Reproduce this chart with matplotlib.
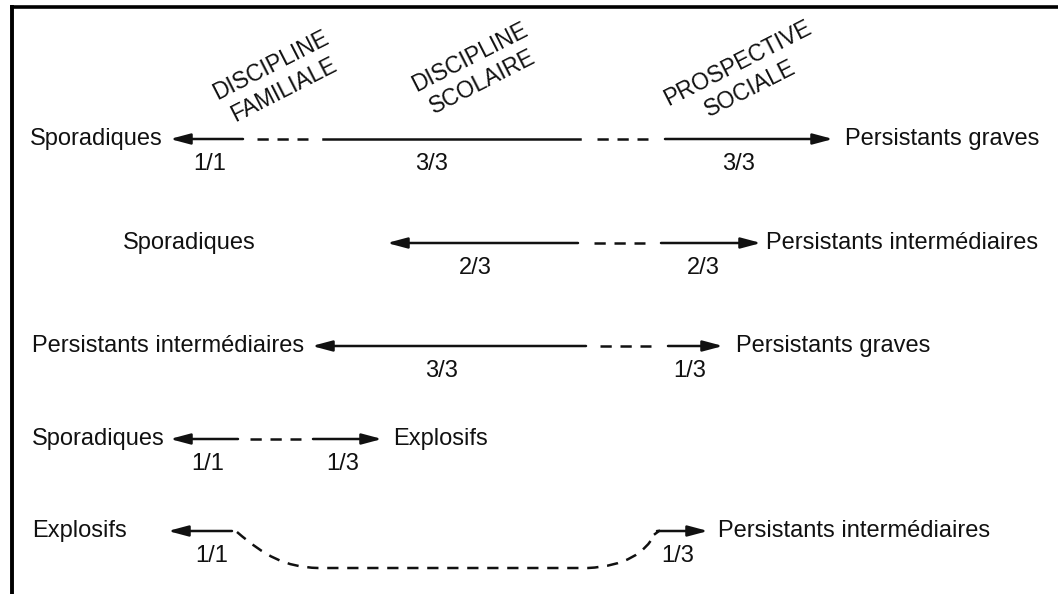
import matplotlib.pyplot as plt
from matplotlib.path import Path
from matplotlib.patches import PathPatch

plt.rcParams['font.family'] = ['Liberation Sans', 'DejaVu Sans']

# ---- layout of the diagram (pixel units, y down) ----
row_y = [139, 243, 346, 439, 531]
left_labels = ['Sporadiques', 'Sporadiques', 'Persistants intermédiaires',
               'Sporadiques', 'Explosifs']
left_label_x = [30, 123, 32, 32, 32]
right_labels = ['Persistants graves', 'Persistants intermédiaires',
                'Persistants graves', 'Explosifs', 'Persistants intermédiaires']
right_label_x = [845, 766, 736, 393, 718]

# left arrows: (tip, other end)
left_arrows = [(170, 243), (387, 578), (312, 586), (170, 238), (168, 232)]
# right arrows: (start, tip)
right_arrows = [(665, 833), (661, 761), (668, 723), (313, 382), (657, 708)]
# extra solid pieces and dashed pieces per row
solid_extra = [[(323, 580)], [], [], [], []]
dashed = [[(257, 308), (597, 648)], [(594, 645)], [(600, 651)], [(250, 301)], []]

# fractions under the arrows
fractions = [
    [(210, '1/1'), (432, '3/3'), (739, '3/3')],
    [(475, '2/3'), (703, '2/3')],
    [(442, '3/3'), (690, '1/3')],
    [(208, '1/1'), (343, '1/3')],
    [(212, '1/1'), (678, '1/3')],
]
frac_dy = 25

headers = ['DISCIPLINE\nFAMILIALE', 'DISCIPLINE\nSCOLAIRE', 'PROSPECTIVE\nSOCIALE']
header_xy = [(277, 78), (476, 70), (744, 76)]

# dashed curve of the last row (control points)
curve_pts = [(237, 532), (265, 556), (285, 567), (318, 568),
             (588, 568), (625, 566), (645, 553), (655, 534)]

ink = '#111111'
lw = 1.8

fig = plt.figure(figsize=(10.58, 5.94), dpi=100)
ax = fig.add_axes([0, 0, 1, 1])
ax.set_xlim(0, 1058)
ax.set_ylim(594, 0)
ax.axis('off')

# frame (top and left only)
ax.plot([10, 1058], [6.5, 6.5], color='k', lw=2.6, solid_capstyle='butt')
ax.plot([12, 12], [5, 594], color='k', lw=2.8, solid_capstyle='butt')

arrow_kw = dict(arrowstyle='-|>,head_length=1.2,head_width=0.32', lw=lw,
                color=ink, shrinkA=0, shrinkB=0, mutation_scale=10)
dash = (0, (4.5, 3.5))

for i, y in enumerate(row_y):
    ax.text(left_label_x[i], y, left_labels[i], fontsize=17, color=ink,
            ha='left', va='center')
    ax.text(right_label_x[i], y, right_labels[i], fontsize=17, color=ink,
            ha='left', va='center')
    tip, end = left_arrows[i]
    ax.annotate('', xy=(tip, y), xytext=(end, y), arrowprops=arrow_kw)
    start, tip = right_arrows[i]
    ax.annotate('', xy=(tip, y), xytext=(start, y), arrowprops=arrow_kw)
    for a, b in solid_extra[i]:
        ax.plot([a, b], [y, y], color=ink, lw=lw)
    for a, b in dashed[i]:
        ax.plot([a, b], [y, y], color=ink, lw=lw, linestyle=dash,
                dash_capstyle='butt')
    for x, t in fractions[i]:
        ax.text(x, y + frac_dy, t, fontsize=17, color=ink, ha='center', va='center')

# curve from Explosifs to Persistants intermediaires
codes = [Path.MOVETO, Path.CURVE4, Path.CURVE4, Path.CURVE4,
         Path.LINETO, Path.CURVE4, Path.CURVE4, Path.CURVE4]
ax.add_patch(PathPatch(Path(curve_pts, codes), fill=False, edgecolor=ink,
                       lw=lw, linestyle=dash))
ax.plot([655, 659], [534, row_y[4]], color=ink, lw=lw)

for (x, y), t in zip(header_xy, headers):
    ax.text(x, y, t, fontsize=16.5, color=ink, rotation=27, rotation_mode='anchor',
            ha='center', va='center', multialignment='center', linespacing=1.25)

fig.savefig('out.png', dpi=100, facecolor='white')
